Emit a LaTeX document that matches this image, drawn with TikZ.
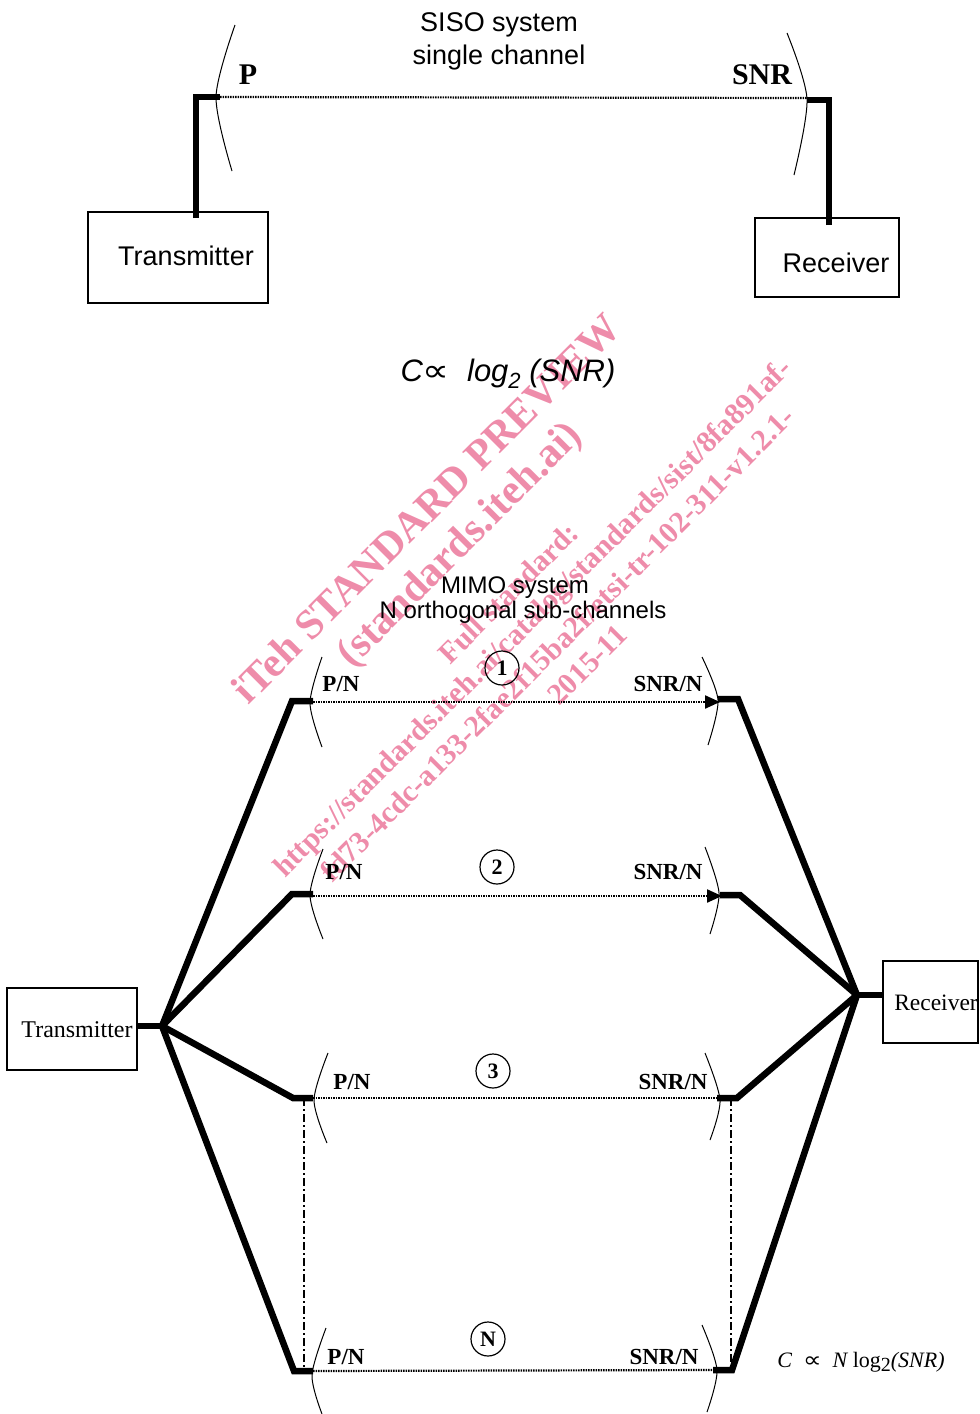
\documentclass[tikz,border=0pt]{standalone}
\usepackage{fontspec}
\usepackage{graphicx}
\setmainfont{Liberation Serif}
\newfontfamily\arial{Liberation Sans}
\newfontfamily\dejavu{DejaVu Sans}
\usetikzlibrary{arrows.meta}
\definecolor{wm}{RGB}{238,140,170}
\tikzset{
  heavy/.style={line width=6.5pt, line join=miter, line cap=butt},
  boxnode/.style={draw, line width=1.5pt, inner sep=0pt},
  lens/.style={line width=1pt},
  dotline/.style={line width=2.2pt, dash pattern=on 1.6pt off 0.9pt},
  dashdotline/.style={line width=1.6pt, dash pattern=on 8pt off 3pt on 2pt off 3pt},
  sanslabel/.style={font=\arial\fontsize{27}{33}\selectfont, align=center},
  boldlab/.style={font=\bfseries\fontsize{23}{23}\selectfont, inner sep=0pt},
  chnum/.style={draw, circle, line width=1.2pt, minimum size=34pt, inner sep=0pt, font=\bfseries\fontsize{22}{22}\selectfont},
  wmk/.style={text=wm, rotate=45, inner sep=0pt, font=\bfseries\fontsize{30}{30}\selectfont},
  wmkbig/.style={text=wm, rotate=45, inner sep=0pt, font=\bfseries\fontsize{42}{42}\selectfont},
  tip/.style={-{Triangle[length=15pt,width=13pt]}}
}
\begin{document}
\begin{tikzpicture}[x=1pt,y=-1pt]
\useasboundingbox (0,0) rectangle (980,1414);

% watermark
\node[wmkbig] (w1) at (426,508) {iTeh STANDARD PREVIEW};
\node[wmkbig] (w2) at (461,546) {(standards.iteh.ai)};
\node[wmk] (w3) at (508,593) {Full standard:};
\node[wmk] (w4) at (534,619) {https://standards.iteh.ai/catalog/standards/sist/8fa891af-};
\node[wmk] (w5) at (557,644) {fd73-4cdc-a133-2fae2f15ba2f/etsi-tr-102-311-v1.2.1-};
\node[wmk] (w6) at (587,665) {2015-11};

% ---------------- SISO ----------------
\node[sanslabel] (siso) at (499,41) {SISO system\\single channel};

\node[boxnode, minimum width=180pt, minimum height=91pt] (tx1) at (178,257.5) {};
\node[sanslabel] (tx1t) at (186,256) {Transmitter};
\node[boxnode, minimum width=144pt, minimum height=79pt] (rx1) at (827,257.5) {};
\node[sanslabel] (rx1t) at (836,263) {Receiver};

\coordinate (a1) at (196,218);
\coordinate (a2) at (196,97);
\coordinate (a3) at (220,97);
\coordinate (b1) at (829,225);
\coordinate (b2) at (829,100);
\coordinate (b3) at (807,100);

\draw[dotline] (a3) -- (807,98);
\draw[heavy] (a1) -- (a2) -- (a3);
\draw[heavy] (b1) -- (b2) -- (b3);

\draw[lens] plot[smooth] coordinates {(235,25) (216,97) (232,171)};
\draw[lens] plot[smooth] coordinates {(787,33) (807,99) (794,175)};

\node[font=\bfseries\fontsize{30}{30}\selectfont] (p) at (248,75) {P};
\node[font=\bfseries\fontsize{30}{30}\selectfont] (snr) at (762,75) {SNR};

\node[font=\arial\itshape\fontsize{31}{31}\selectfont] (f1) at (508,374)
  {C\scalebox{1.45}[1.2]{\dejavu\upshape\fontsize{26}{26}\selectfont ∝}\ \ log\raisebox{-0.4ex}{\fontsize{22}{22}\selectfont 2} (SNR)};

% ---------------- MIMO ----------------
\node[font=\arial\fontsize{24}{25}\selectfont] (mimo1) at (515,588) {MIMO system};
\node[font=\arial\fontsize{24}{25}\selectfont] (mimo2) at (523,612) {N orthogonal sub-channels};

\node[boxnode, minimum width=130pt, minimum height=82pt] (tx2) at (72,1029) {};
\node[font=\fontsize{24}{24}\selectfont] (tx2t) at (77,1030) {Transmitter};
\node[boxnode, minimum width=95pt, minimum height=82pt] (rx2) at (930.5,1002) {};
\node[font=\fontsize{23.5}{24}\selectfont] (rx2t) at (936,1003) {Receiver};

\coordinate (h1) at (162,1026);
\coordinate (h2) at (857,995);

\coordinate (l1a) at (313,701); \coordinate (l1b) at (292,701);
\coordinate (l2a) at (313,894); \coordinate (l2b) at (292,894);
\coordinate (l3a) at (313,1098); \coordinate (l3b) at (293,1098);
\coordinate (lna) at (313,1371); \coordinate (lnb) at (294,1371);
\coordinate (r1a) at (718,699); \coordinate (r1b) at (738,699);
\coordinate (r2a) at (720,895); \coordinate (r2b) at (740,895);
\coordinate (r3a) at (717,1098); \coordinate (r3b) at (737,1098);
\coordinate (rna) at (713,1370); \coordinate (rnb) at (732,1370);

% dotted channels
\draw[dotline, tip] (313,702) -- (720,702);
\draw[dotline, tip] (313,896) -- (722,896);
\draw[dotline] (l3a) -- (r3a);
\draw[dotline] (lna) -- (rna);

% dash-dot
\draw[dashdotline] (304,1098) -- (304,1371);
\draw[dashdotline] (731,1098) -- (731,1369);

% heavy feeds
\draw[heavy] (tx2.east |- h1) -- (h1);
\draw[heavy] (l1a) -- (l1b) -- (h1);
\draw[heavy] (l2a) -- (l2b) -- (h1);
\draw[heavy] (l3a) -- (l3b) -- (h1);
\draw[heavy] (lna) -- (lnb) -- (h1);
\draw[heavy] (h2) -- (rx2.west |- h2);
\draw[heavy] (r1a) -- (r1b) -- (h2);
\draw[heavy] (r2a) -- (r2b) -- (h2);
\draw[heavy] (r3a) -- (r3b) -- (h2);
\draw[heavy] (rna) -- (rnb) -- (h2);

% lenses
\draw[lens] plot[smooth] coordinates {(322,657) (310,703) (322,747)};
\draw[lens] plot[smooth] coordinates {(702,657) (718,700) (708,745)};
\draw[lens] plot[smooth] coordinates {(323,849) (310,895) (323,939)};
\draw[lens] plot[smooth] coordinates {(705,847) (719,893) (710,934)};
\draw[lens] plot[smooth] coordinates {(328,1053) (314,1100) (327,1143)};
\draw[lens] plot[smooth] coordinates {(705,1053) (720,1100) (710,1140)};
\draw[lens] plot[smooth] coordinates {(326,1328) (312,1375) (322,1414)};
\draw[lens] plot[smooth] coordinates {(702,1325) (717,1370) (707,1412)};

% labels
\node[boldlab] (pn1) at (341,684) {P/N};
\node[boldlab] (sn1) at (668,684) {SNR/N};
\node[chnum] (c1) at (502,668) {1};
\node[boldlab] (pn2) at (344,872) {P/N};
\node[boldlab] (sn2) at (668,872) {SNR/N};
\node[chnum] (c2) at (497,867) {2};
\node[boldlab] (pn3) at (352,1082) {P/N};
\node[boldlab] (sn3) at (673,1082) {SNR/N};
\node[chnum] (c3) at (493,1071) {3};
\node[boldlab] (pnn) at (346,1357) {P/N};
\node[boldlab] (snn) at (664,1357) {SNR/N};
\node[chnum] (cn) at (488,1339) {N};

\node[font=\fontsize{22}{22}\selectfont] (f2) at (861,1362)
  {\itshape C \ \scalebox{1.3}[1.1]{\dejavu\upshape\fontsize{20}{20}\selectfont ∝} \ N\upshape\ log\raisebox{-0.4ex}{\fontsize{20}{20}\selectfont 2}\itshape (SNR)};
\end{tikzpicture}
\end{document}
